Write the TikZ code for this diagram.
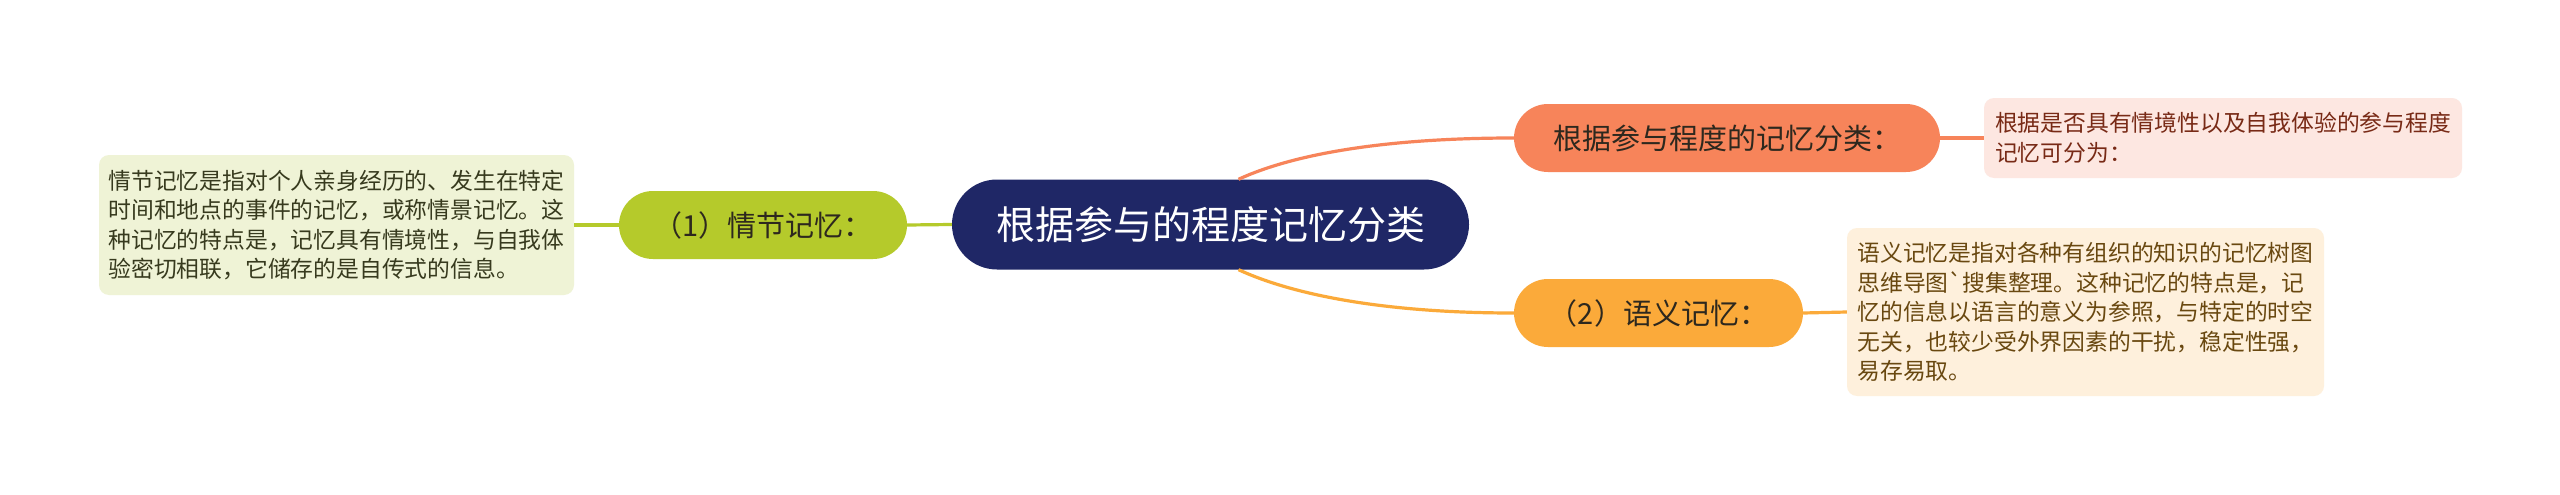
\documentclass[tikz,border=0pt]{standalone}
\usepackage{fontspec}
\newfontfamily\cjk{Noto Sans CJK SC}
\usetikzlibrary{calc}
\definecolor{navy}{RGB}{31,39,102}
\definecolor{lime}{RGB}{181,202,43}
\definecolor{limebg}{RGB}{239,243,214}
\definecolor{limetxt}{RGB}{55,58,30}
\definecolor{coral}{RGB}{247,132,90}
\definecolor{coralbg}{RGB}{253,231,225}
\definecolor{coraltxt}{RGB}{120,42,22}
\definecolor{amber}{RGB}{251,170,58}
\definecolor{amberbg}{RGB}{254,240,220}
\definecolor{ambertxt}{RGB}{105,72,16}
\definecolor{nodetxt}{RGB}{45,40,30}
\tikzset{
  rootnode/.style={fill=navy, text=white, minimum width=517pt, minimum height=90pt,
    rounded corners=45pt, inner sep=0pt, font=\cjk\fontsize{39}{44}\selectfont},
  pillnode/.style={minimum height=68pt, rounded corners=34pt, inner sep=0pt,
    text=nodetxt, font=\cjk\fontsize{29}{34}\selectfont},
  notebox/.style={rounded corners=10pt, align=left, inner sep=0pt,
    font=\cjk\fontsize{22.8}{29.5}\selectfont},
  link/.style={line width=3.2pt}
}
\begin{document}
\begin{tikzpicture}[x=1pt,y=-1pt]
\useasboundingbox[fill=white] (0,0) rectangle (2560,495);
\node[rootnode] (root) at (1210.5,224.5) {根据参与的程度记忆分类};
\node[pillnode, fill=lime, minimum width=288pt] (ep) at (763,225) {（1）情节记忆：};
\node[pillnode, fill=coral, minimum width=426pt] (cls) at (1727,138) {根据参与程度的记忆分类：};
\node[pillnode, fill=amber, minimum width=289pt] (sem) at (1658.5,313) {（2）语义记忆：};
\node[notebox, fill=limebg, text=limetxt, minimum width=475pt, minimum height=140pt] (epnote) at (336.5,225) {情节记忆是指对个人亲身经历的、发生在特定\\时间和地点的事件的记忆，或称情景记忆。这\\种记忆的特点是，记忆具有情境性，与自我体\\验密切相联，它储存的是自传式的信息。};
\node[notebox, fill=coralbg, text=coraltxt, minimum width=478pt, minimum height=80pt] (clsnote) at (2223,138) {根据是否具有情境性以及自我体验的参与程度\\记忆可分为：};
\node[notebox, fill=amberbg, text=ambertxt, minimum width=477pt, minimum height=168pt] (semnote) at (2085.5,312) {语义记忆是指对各种有组织的知识的记忆树图\\思维导图`搜集整理。这种记忆的特点是，记\\忆的信息以语言的意义为参照，与特定的时空\\无关，也较少受外界因素的干扰，稳定性强，\\易存易取。};
\coordinate (rtop) at ($(root.north)+(28,0)$);
\coordinate (rbot) at ($(root.south)+(28,0)$);
\draw[link, lime] (epnote.east) -- (ep.west);
\draw[link, lime] (ep.east) -- (root.west);
\draw[link, coral] (rtop) .. controls +(52,-24) and +(-134,0) .. (cls.west);
\draw[link, amber] (rbot) .. controls +(52,24) and +(-134,0) .. (sem.west);
\draw[link, coral] (cls.east) -- (clsnote.west);
\draw[link, amber] (sem.east) -- (semnote.west);
\end{tikzpicture}
\end{document}
